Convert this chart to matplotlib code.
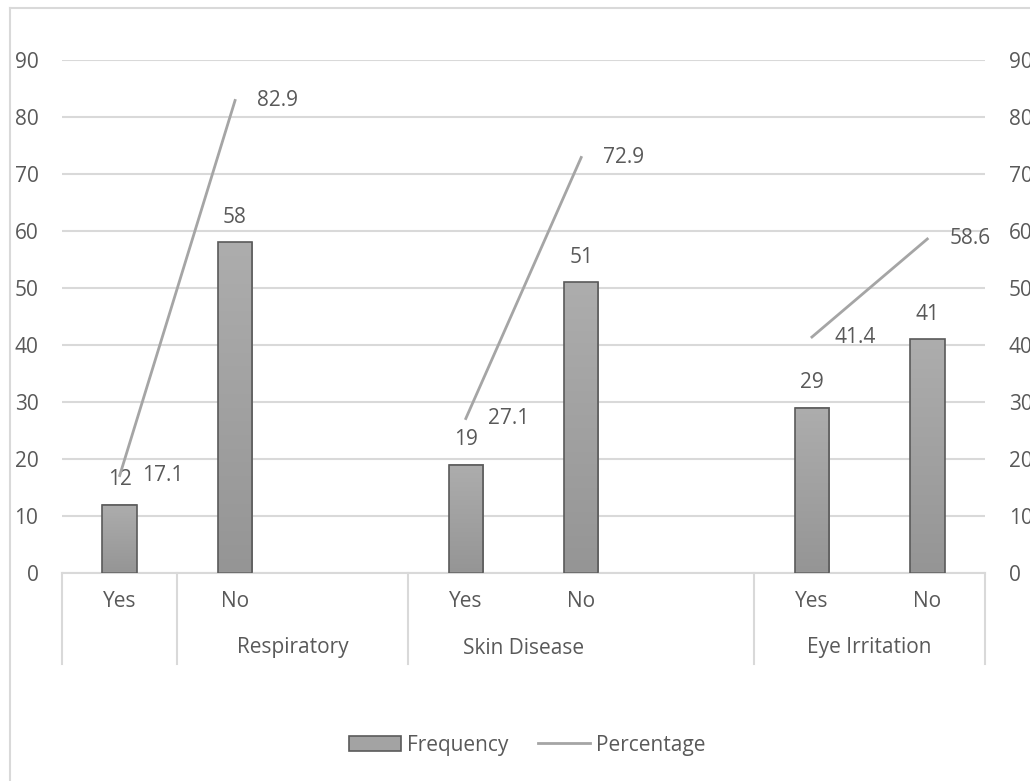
import numpy as np
import matplotlib
matplotlib.use("Agg")
import matplotlib.pyplot as plt
from matplotlib.colors import LinearSegmentedColormap
from matplotlib.lines import Line2D
from matplotlib.patches import Patch
import matplotlib.transforms as mtransforms

plt.rcParams['font.family'] = ['Open Sans', 'DejaVu Sans']

# categories: answer per slot, blank slots separate the groups
answers = ["Yes", "No", "", "Yes", "No", "", "Yes", "No"]
groups = ["Respiratory", "Skin Disease", "Eye Irritation"]
group_centers = [1.5, 3.5, 6.5]
separators = [-0.5, 0.5, 2.5, 5.5, 7.5]

frequency = [12, 58, np.nan, 19, 51, np.nan, 29, 41]
percentage = [17.1, 82.9, np.nan, 27.1, 72.9, np.nan, 41.4, 58.6]

text_col = "#595959"
grid_col = "#d9d9d9"
fs = 15

fig = plt.figure(figsize=(10.30, 7.81), dpi=100)
ax = fig.add_axes([62/1030, 1-573/781, 923/1030, 513/781])

x = np.arange(len(answers))
bar_w = 0.3
cmap = LinearSegmentedColormap.from_list("bar", ["#959595", "#adadad"])
grad = np.linspace(0, 1, 256).reshape(-1, 1)

for xi, v in zip(x, frequency):
    if np.isnan(v):
        continue
    ax.imshow(grad, extent=[xi - bar_w/2, xi + bar_w/2, 0, v], origin="lower",
              aspect="auto", cmap=cmap, zorder=2)
    ax.bar(xi, v, width=bar_w, facecolor="none", edgecolor="#5a5a5a",
           linewidth=1.2, zorder=3)
    ax.annotate(f"{v:g}", (xi, v), xytext=(0, 18), textcoords="offset points",
                ha="center", va="center", color=text_col, fontsize=fs)

ax.set_xlim(-0.5, 7.5)
ax.set_ylim(0, 90)
ax.set_yticks(np.arange(0, 91, 10))
ax.yaxis.grid(True, color=grid_col, linewidth=1.5)
ax.set_axisbelow(True)
for s in ["top", "right", "left"]:
    ax.spines[s].set_visible(False)
ax.spines["bottom"].set_color(grid_col)
ax.spines["bottom"].set_linewidth(1.5)
ax.tick_params(axis="y", length=0, pad=17, labelcolor=text_col, labelsize=fs)
ax.set_xticks(x)
ax.set_xticklabels(answers)
ax.tick_params(axis="x", length=0, pad=13, labelcolor=text_col, labelsize=fs)

# group labels and separators below the axis
trans = mtransforms.blended_transform_factory(ax.transData, ax.transAxes)
for g, c in zip(groups, group_centers):
    ax.text(c, -75/513, g, transform=trans, ha="center", va="center",
            color=text_col, fontsize=fs)
for s in separators:
    ax.add_line(Line2D([s, s], [0, -91/513], transform=trans, color=grid_col,
                       linewidth=1.5, clip_on=False))

ax2 = ax.twinx()
ax2.set_ylim(0, 90)
ax2.set_yticks(np.arange(0, 91, 10))
for s in ax2.spines.values():
    s.set_visible(False)
ax2.tick_params(axis="y", length=0, pad=17, labelcolor=text_col, labelsize=fs)
ax2.plot(x, percentage, color="#a5a5a5", linewidth=2, zorder=4)
for xi, p in zip(x, percentage):
    if np.isnan(p):
        continue
    ax2.annotate(f"{p:.1f}", (xi, p), xytext=(16, 0), textcoords="offset points",
                 ha="left", va="center", color=text_col, fontsize=fs)

# outer chart border
fig.add_artist(Line2D([10/1030, 10/1030], [0, 1-8/781], color=grid_col, linewidth=1.5))
fig.add_artist(Line2D([10/1030, 1], [1-8/781, 1-8/781], color=grid_col, linewidth=1.5))

handles = [Patch(facecolor="#a3a3a3", edgecolor="#5a5a5a", linewidth=1.2),
           Line2D([], [], color="#a5a5a5", linewidth=2)]
leg = fig.legend(handles, ["Frequency", "Percentage"], loc="center",
                 bbox_to_anchor=(527/1030, 1-745/781), ncol=2, frameon=False,
                 fontsize=fs, handlelength=2.5, handletextpad=0.3,
                 columnspacing=1.4)
for t in leg.get_texts():
    t.set_color(text_col)

fig.savefig("out.png", dpi=100)
